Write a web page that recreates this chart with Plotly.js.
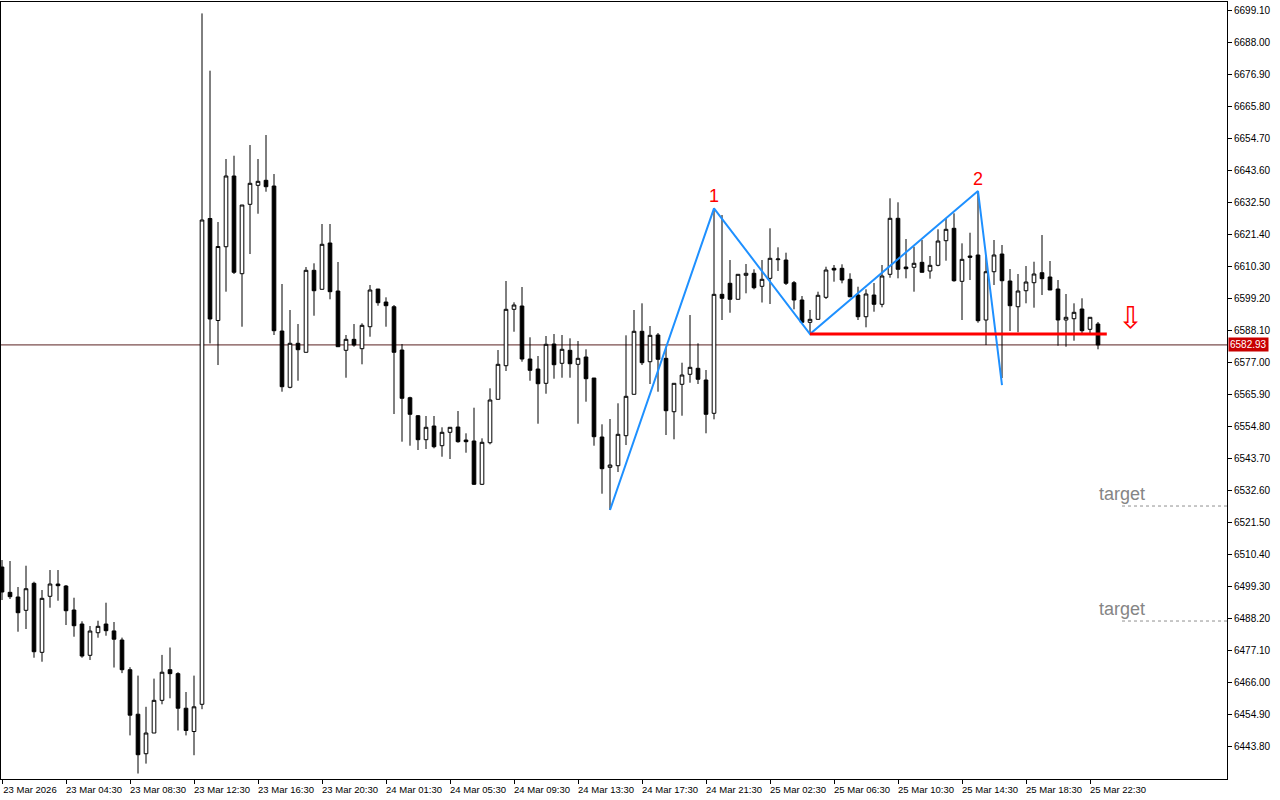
<!DOCTYPE html>
<html>
<head>
<meta charset="utf-8">
<script src="https://cdn.plot.ly/plotly-3.0.1.min.js"></script>
<style>
html,body{margin:0;padding:0;background:#fff;}
#chart{width:1280px;height:800px;}
</style>
</head>
<body>
<div id="chart"></div>
<script>
// ---- data (30-minute bars, index 0 = 23 Mar 00:30) ----
const opens = [6505.89,6497.11,6495.49,6490.87,6500.24,6476.30,6495.73,6499.99,6499.30,6490.98,
6486.12,6475.26,6483.10,6486.12,6483.73,6480.57,6470.27,6454.83,6441.13,6448.31,
6459.65,6470.27,6468.91,6456.91,6448.83,6458.27,6626.78,6591.40,6616.99,6641.52,
6607.63,6631.70,6638.29,6640.03,6638.05,6587.75,6568.23,6583.49,6580.37,6608.81,
6602.22,6618.28,6601.63,6581.06,6584.87,6581.62,6589.24,6602.32,6597.81,6596.18,
6581.16,6564.62,6558.37,6550.05,6554.80,6547.97,6552.62,6554.45,6549.94,6549.60,
6534.58,6549.01,6564.06,6575.72,6595.28,6596.43,6578.04,6574.57,6569.61,6583.24,
6576.55,6581.06,6576.20,6578.74,6571.45,6550.99,6540.47,6541.03,6551.44,6565.80,
6587.65,6577.10,6586.37,6578.28,6559.76,6569.27,6572.74,6574.82,6570.76,6559.21,
6600.48,6604.30,6598.75,6607.08,6607.77,6603.26,6606.03,6612.49,6612.38,6604.51,
6598.51,6590.77,6591.81,6599.44,6609.50,6609.50,6605.69,6600.24,6592.71,6600.24,
6597.02,6607.42,6626.85,6609.95,6609.85,6611.58,6608.57,6610.54,6619.08,6623.38,
6604.99,6613.77,6614.12,6591.57,6608.32,6614.46,6605.10,6596.18,6601.73,6604.51,
6607.98,6606.49,6602.32,6591.57,6592.02,6595.39,6588.34,6590.18];
const highs = [6508.32,6507.97,6498.95,6506.34,6500.79,6497.91,6504.85,6504.85,6499.65,6495.24,
6487.06,6485.43,6487.26,6493.51,6486.81,6481.40,6471.14,6468.22,6457.40,6467.18,
6475.40,6477.97,6469.40,6462.53,6468.22,6697.92,6678.05,6625.56,6647.42,6648.56,
6631.46,6652.27,6647.42,6655.74,6642.21,6604.06,6595.04,6590.18,6609.95,6611.24,
6624.87,6624.87,6611.69,6586.37,6590.18,6590.43,6603.71,6602.32,6599.44,6596.77,
6583.24,6564.96,6558.62,6558.27,6558.27,6554.35,6554.35,6560.00,6552.27,6561.15,
6550.53,6567.88,6581.16,6605.10,6597.71,6603.02,6585.57,6579.08,6586.02,6586.71,
6586.37,6585.22,6584.29,6581.41,6571.45,6555.39,6557.23,6562.68,6586.26,6595.04,
6597.36,6589.49,6587.06,6582.31,6569.61,6576.76,6593.30,6583.49,6574.23,6630.32,
6627.99,6612.38,6607.42,6610.99,6609.16,6612.38,6623.38,6616.79,6614.92,6605.10,
6599.89,6595.04,6601.39,6610.06,6610.65,6610.89,6607.77,6603.12,6602.22,6604.40,
6610.65,6633.79,6632.40,6619.67,6617.00,6619.32,6613.77,6623.03,6626.85,6628.58,
6618.17,6621.85,6636.32,6614.12,6619.32,6617.59,6609.26,6607.53,6610.30,6611.79,
6621.05,6612.04,6605.44,6600.59,6597.36,6599.10,6592.51,6590.88];
const lows = [6494.44,6494.79,6483.45,6484.39,6474.43,6473.04,6491.77,6494.20,6485.77,6481.71,
6474.43,6473.63,6481.37,6482.06,6471.03,6469.09,6447.48,6434.26,6437.70,6448.31,
6458.27,6460.35,6449.18,6447.48,6440.61,6456.57,6583.45,6575.96,6601.39,6607.53,
6589.24,6614.46,6628.44,6636.07,6586.37,6566.70,6567.88,6570.51,6580.37,6593.06,
6602.22,6598.75,6582.31,6571.55,6582.31,6576.20,6585.78,6596.53,6589.24,6558.96,
6549.36,6547.97,6546.48,6546.82,6547.07,6544.15,6543.35,6549.01,6545.54,6534.34,
6534.34,6548.45,6564.06,6573.88,6587.51,6577.10,6570.51,6555.60,6566.00,6571.21,
6571.55,6571.55,6555.60,6563.23,6547.97,6531.32,6525.66,6538.84,6548.21,6565.80,
6575.96,6569.37,6566.70,6551.68,6550.19,6558.37,6569.82,6569.37,6552.27,6557.12,
6591.57,6594.10,6598.75,6600.83,6602.22,6597.64,6597.12,6608.57,6603.71,6595.28,
6590.77,6586.71,6591.81,6598.85,6604.86,6604.30,6599.44,6591.57,6589.04,6594.45,
6595.98,6606.24,6606.03,6606.03,6601.39,6608.12,6605.90,6610.20,6612.14,6604.86,
6591.57,6605.44,6590.63,6582.90,6603.71,6571.45,6587.75,6587.30,6597.36,6595.84,
6600.24,6601.98,6582.65,6582.31,6584.39,6586.37,6586.37,6581.41];
const closes = [6497.22,6495.59,6490.04,6498.36,6476.51,6495.03,6499.99,6499.41,6490.73,6485.53,
6475.02,6483.69,6485.32,6483.80,6480.85,6470.27,6454.49,6440.78,6448.31,6459.65,
6469.40,6468.91,6456.91,6449.18,6457.40,6626.26,6591.92,6617.06,6641.52,6608.12,
6631.46,6638.99,6639.68,6637.81,6587.86,6568.43,6583.49,6581.27,6608.81,6601.73,
6617.83,6601.39,6582.31,6584.87,6582.90,6589.73,6601.98,6597.57,6596.53,6580.37,
6564.41,6558.86,6550.05,6554.35,6547.62,6552.62,6554.35,6549.36,6549.36,6534.58,
6549.15,6563.82,6576.20,6595.28,6596.77,6578.04,6574.12,6569.47,6583.14,6576.06,
6581.41,6576.41,6578.28,6571.21,6551.09,6539.99,6541.27,6551.92,6565.10,6587.65,
6576.76,6586.26,6577.94,6560.11,6569.61,6572.49,6575.16,6571.00,6558.86,6600.48,
6599.10,6598.75,6607.42,6607.77,6602.77,6605.69,6612.97,6612.73,6604.30,6598.51,
6590.77,6591.81,6600.14,6608.91,6608.91,6605.44,6599.65,6592.71,6600.59,6597.02,
6606.83,6626.85,6609.16,6609.36,6611.24,6608.12,6610.54,6618.97,6623.03,6605.20,
6612.62,6613.32,6591.33,6608.32,6614.12,6605.20,6596.53,6601.63,6604.75,6607.53,
6605.90,6601.98,6591.57,6592.51,6594.24,6587.86,6592.51,6582.93];

const timeTickIdx = [0,8,16,24,32,40,48,56,64,72,80,88,96,104,112,120,128,136];
const timeTickLabels = ["23 Mar 2026","23 Mar 04:30","23 Mar 08:30","23 Mar 12:30","23 Mar 16:30",
"23 Mar 20:30","24 Mar 01:30","24 Mar 05:30","24 Mar 09:30","24 Mar 13:30","24 Mar 17:30",
"24 Mar 21:30","25 Mar 02:30","25 Mar 06:30","25 Mar 10:30","25 Mar 14:30","25 Mar 18:30","25 Mar 22:30"];
const priceTicks = [6443.80,6454.90,6466.00,6477.10,6488.20,6499.30,6510.40,6521.50,6532.60,6543.70,
6554.80,6565.90,6577.00,6588.10,6599.20,6610.30,6621.40,6632.50,6643.60,6654.70,6665.80,6676.90,6688.00,6699.10];

// zigzag (pattern) points
const zigzagIdx = [76, 89, 101, 122, 125];
const zigzagPrice = [6525.66, 6630.32, 6586.71, 6636.32, 6569.02];
const peakLabels = ["1", "2"];
const peakIdx = [89, 122];
const peakPrice = [6630.32, 6636.32];
// neckline
const necklinePrice = 6586.71;
const necklineFrom = 101, necklineTo = 138.1;
// targets
const targetPrices = [6527.05, 6487.16];
const targetFrom = 140;
const lastPrice = 6582.93;
const arrowIdx = 141, arrowPrice = 6592.6;

const xRange = [-0.125, 153.125];
const yRange = [6432.36, 6701.88];

const idx = opens.map((_, i) => i);

const traces = [
  {
    type: 'candlestick', x: idx, open: opens, high: highs, low: lows, close: closes,
    increasing: {line: {color: '#000000', width: 1}, fillcolor: '#ffffff'},
    decreasing: {line: {color: '#000000', width: 1}, fillcolor: '#000000'},
    whiskerwidth: 0, hoverinfo: 'skip', showlegend: false
  },
  {
    type: 'scatter', mode: 'lines', x: zigzagIdx, y: zigzagPrice,
    line: {color: '#1E90FF', width: 2}, hoverinfo: 'skip', showlegend: false
  }
];

const shapes = [
  {type: 'line', xref: 'paper', yref: 'y', x0: 0, x1: 1, y0: lastPrice, y1: lastPrice,
   line: {color: '#5a2020', width: 1}, layer: 'below'},
  {type: 'line', xref: 'x', yref: 'y', x0: necklineFrom, x1: necklineTo, y0: necklinePrice, y1: necklinePrice,
   line: {color: '#FF0000', width: 3}},
];
targetPrices.forEach(p => shapes.push({
  type: 'line', xref: 'x', yref: 'y', x0: targetFrom, x1: xRange[1], y0: p, y1: p,
  line: {color: '#909090', width: 1, dash: 'dot'}
}));

const annotations = [];
peakLabels.forEach((t, k) => annotations.push({
  x: peakIdx[k], y: peakPrice[k], xref: 'x', yref: 'y', text: t, showarrow: false,
  yanchor: 'bottom', xanchor: 'center', font: {family: 'Liberation Sans, Arial', size: 18, color: '#FF0000'}
}));
targetPrices.forEach(p => annotations.push({
  x: targetFrom, y: p, xref: 'x', yref: 'y', text: 'target', showarrow: false,
  yanchor: 'bottom', xanchor: 'center', font: {family: 'Liberation Sans, Arial', size: 18, color: '#858585'}
}));
annotations.push({
  x: arrowIdx, y: arrowPrice, xref: 'x', yref: 'y', text: '\u21E9', showarrow: false,
  xanchor: 'center', yanchor: 'middle', font: {family: 'DejaVu Sans', size: 30, color: '#FF0000'}
});
annotations.push({
  x: 1, y: lastPrice, xref: 'paper', yref: 'y', text: lastPrice.toFixed(2), showarrow: false,
  xanchor: 'left', yanchor: 'middle', xshift: 1, bgcolor: '#C80000', borderpad: 1,
  font: {family: 'Liberation Sans, Arial', size: 10, color: '#ffffff'}
});

const layout = {
  width: 1280, height: 800,
  margin: {l: 1, r: 53, t: 2, b: 21, pad: 0},
  paper_bgcolor: '#ffffff', plot_bgcolor: '#ffffff',
  font: {family: 'Liberation Sans, Arial', size: 10, color: '#000000'},
  showlegend: false, hovermode: false, boxgap: 0.35,
  xaxis: {
    range: xRange, rangeslider: {visible: false}, showgrid: false, zeroline: false,
    tickmode: 'array', tickvals: timeTickIdx, ticktext: timeTickLabels,
    ticks: 'outside', ticklen: 4, tickcolor: '#000', tickfont: {size: 9.5},
    ticklabelshift: 28, ticklabelstandoff: -2,
    showline: true, linecolor: '#000', linewidth: 1, mirror: true
  },
  yaxis: {
    range: yRange, side: 'right', showgrid: false, zeroline: false,
    tickmode: 'array', tickvals: priceTicks, tickformat: '.2f',
    ticks: 'outside', ticklen: 4, tickcolor: '#000', tickfont: {size: 10},
    showline: true, linecolor: '#000', linewidth: 1, mirror: true
  },
  shapes: shapes, annotations: annotations
};

Plotly.newPlot('chart', traces, layout, {staticPlot: true, displayModeBar: false});
</script>
</body>
</html>
